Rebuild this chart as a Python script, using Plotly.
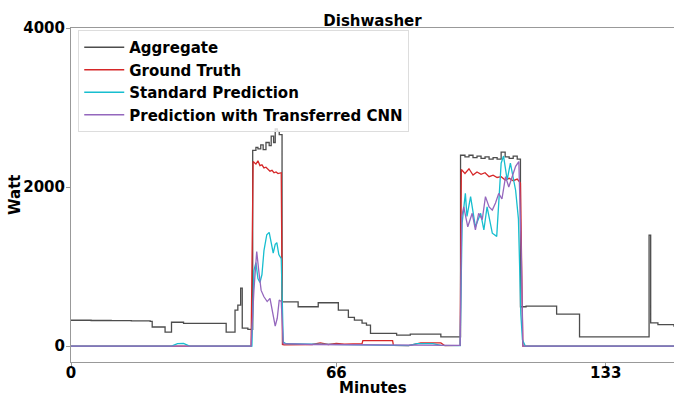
import plotly.graph_objects as go

# ---------------- data (minutes, watts) ----------------
agg_t = [0, 5, 10, 15, 19.7, 20.2, 23.4, 25, 28, 38.6, 40.8, 41.5, 42.2, 42.6, 44,
         45.2, 46.0, 46.5, 47.2, 47.8, 48.5, 49.3, 49.8, 50.4, 50.8, 51.3, 51.8, 52.5,
         56.5, 61.5, 66.5, 69, 70.5, 72.4, 73.5, 74.5, 81, 84.4, 92, 96.9,
         98, 99, 100, 101, 102, 103, 104, 105, 106, 107, 108, 109, 110, 111, 111.8,
         113.2, 120.8, 126.5, 143.8, 144.2, 146, 150]
agg_w = [325, 322, 320, 316, 312, 240, 176, 300, 285, 176, 453, 516, 730, 226, 210,
         2460, 2500, 2480, 2530, 2470, 2560, 2520, 2640, 2560, 2730, 2700, 2660, 557,
         495, 545, 453, 360, 327, 290, 264, 160, 138, 150, 117, 2400,
         2380, 2400, 2370, 2390, 2360, 2380, 2350, 2370, 2350, 2440, 2380, 2360, 2390, 2350, 495,
         503, 402, 117, 1396, 293, 270, 243]

gt_t = [0, 44.8, 45.3, 46, 46.5, 47, 47.5, 48, 48.5, 49, 49.5, 50, 50.5, 51, 51.5, 52.3, 52.6,
        53, 60, 62, 64, 66, 68, 72.4, 72.6, 80, 80.2, 84, 87, 92, 93, 96.8,
        97.1, 98, 99, 100, 101, 102, 103, 104, 105, 106, 107, 108, 109, 110, 111, 111.8, 112.4, 150]
gt_w = [0, 0, 2320, 2290, 2330, 2270, 2280, 2240, 2250, 2220, 2200, 2210, 2180, 2190, 2170, 2180, 20,
        15, 20, 40, 20, 35, 25, 30, 70, 70, 10, 5, 40, 40, 5, 10,
        2220, 2170, 2230, 2150, 2190, 2160, 2180, 2130, 2150, 2120, 2130, 2090, 2110, 2080, 2100, 2050, 0, 0]

std_t = [0, 25, 26.5, 28, 29.5, 45, 45.5, 46, 46.5, 47, 47.5, 48, 48.7, 49.3, 49.8, 50.3, 50.8,
         51.2, 51.7, 52.3, 52.8, 53.5, 60, 66, 72, 78, 84, 86, 90, 92, 96.8,
         97.3, 98.1, 98.5, 99.4, 100.6, 101.9, 102.7, 103.5, 104.8, 105.9, 107, 107.6, 108.5,
         109.3, 110.6, 111.3, 111.9, 112.3, 113, 150]
std_w = [0, 0, 30, 35, 0, 0, 950, 1050, 850, 800, 900, 1200, 1400, 1430, 1300, 1170, 1280,
         1300, 1150, 1100, 50, 30, 25, 20, 15, 10, 5, 30, 30, 10, 5,
         1550, 1920, 1630, 1880, 1500, 1670, 1460, 1750, 1420, 1380, 2300, 2390, 2090,
         2300, 1960, 1600, 400, 80, 0, 0]

tcnn_t = [0, 44.8, 45.5, 46.2, 46.7, 47.3, 48, 48.8, 49.5, 50.2, 50.8, 51.3, 51.8, 52.3, 52.8,
          60, 70, 80, 96.8, 97.2, 97.7, 98.7, 99.8, 100.6, 101.4, 102.3, 103.1, 104, 104.8,
          105.6, 106.4, 107.2, 108.1, 108.9, 109.8, 110.6, 111.4, 112, 112.4, 150]
tcnn_w = [0, 0, 700, 1190, 950, 700, 620, 560, 600, 400, 250, 350, 580, 560, 30,
          20, 15, 10, 10, 1630, 1750, 1500, 1670, 1460, 1670, 1590, 1880, 1750, 1710,
          1800, 1920, 1850, 2130, 2000, 2150, 2260, 2320, 1200, 0, 0]

series_names = ["Aggregate", "Ground Truth", "Standard Prediction", "Prediction with Transferred CNN"]
series_colors = ["#4d4d4d", "#d62728", "#17becf", "#9467bd"]
x_ticks = [0, 66, 133]
y_ticks = [0, 2000, 4000]

FONT = "DejaVu Sans"
BOLD15 = dict(family=FONT, size=15, weight="bold", color="black")

fig = go.Figure()
fig.add_trace(go.Scatter(x=agg_t, y=agg_w, mode="lines", line_shape="hv",
                         name=series_names[0], line=dict(color=series_colors[0], width=1.3)))
fig.add_trace(go.Scatter(x=gt_t, y=gt_w, mode="lines",
                         name=series_names[1], line=dict(color=series_colors[1], width=1.3)))
fig.add_trace(go.Scatter(x=std_t, y=std_w, mode="lines",
                         name=series_names[2], line=dict(color=series_colors[2], width=1.3)))
fig.add_trace(go.Scatter(x=tcnn_t, y=tcnn_w, mode="lines",
                         name=series_names[3], line=dict(color=series_colors[3], width=1.3)))

fig.update_layout(
    width=674, height=398,
    margin=dict(l=71, r=0, t=28, b=36),
    paper_bgcolor="white", plot_bgcolor="white",
    font=dict(family=FONT, size=14, color="black"),
    title=dict(text="Dishwasher", x=0.5, xref="paper", xanchor="center",
               y=1, yref="paper", yanchor="bottom", pad=dict(b=2),
               font=dict(family=FONT, size=15, weight="bold", color="black")),
    showlegend=True,
    legend=dict(x=0.012, y=0.994, xanchor="left", yanchor="top",
                bgcolor="rgba(255,255,255,0.8)", bordercolor="#dddddd", borderwidth=1,
                font=dict(family=FONT, size=15, weight="bold", color="black"),
                itemwidth=40, tracegroupgap=0),
    annotations=[
        dict(text="Minutes", xref="paper", yref="paper", x=0.5, y=0, yshift=-26,
             xanchor="center", yanchor="middle", showarrow=False, font=BOLD15),
        dict(text="Watt", xref="paper", yref="paper", x=0, y=0.5, xshift=-56,
             xanchor="center", yanchor="middle", textangle=-90, showarrow=False, font=BOLD15),
    ],
)
fig.update_xaxes(range=[0, 150], tickvals=x_ticks, ticktext=[str(v) for v in x_ticks],
                 showgrid=False, zeroline=False, showline=True, linecolor="#999999", linewidth=1,
                 mirror=True, ticks="outside", ticklen=4, tickcolor="#999999",
                 ticklabelstandoff=-7,
                 tickfont=BOLD15, automargin=False)
fig.update_yaxes(range=[-200, 4000], tickvals=y_ticks, ticktext=[str(v) for v in y_ticks],
                 showgrid=False, zeroline=False, showline=True, linecolor="#999999", linewidth=1,
                 ticks="outside", ticklen=4, tickcolor="#999999",
                 ticklabelstandoff=-2,
                 tickfont=BOLD15, automargin=False)

fig.write_html("out.html")
